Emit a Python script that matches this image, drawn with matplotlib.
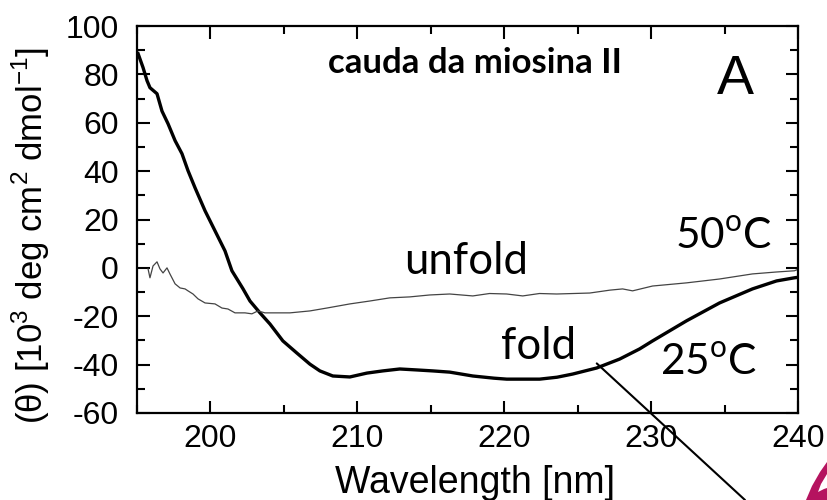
import numpy as np
import matplotlib
matplotlib.use('Agg')
import matplotlib.pyplot as plt
from matplotlib.ticker import MultipleLocator
from matplotlib.patches import Polygon

plt.rcParams['axes.unicode_minus'] = False

# CD spectra
# folded (25 C), thick trace
fold_wl = [195.07, 195.41, 195.68, 195.88, 196.36, 196.70, 197.11, 197.59, 198.06,
           198.47, 198.95, 199.63, 200.31, 200.99, 201.46, 202.20, 202.69, 203.37,
           204.05, 204.93, 205.88, 206.77, 207.45, 208.33, 209.49, 210.65, 211.73,
           212.89, 214.05, 215.14, 216.29, 217.86, 219.30, 220.17, 222.41, 223.60,
           224.66, 226.29, 227.86, 229.22, 230.10, 232.41, 234.66, 236.90, 238.54,
           239.76, 240.00]
fold_cd = [88.6, 82.8, 77.4, 74.5, 72.0, 64.8, 59.6, 52.6, 47.2,
           40.2, 33.1, 23.6, 15.3, 7.0, -1.2, -8.5, -13.7, -18.6,
           -23.2, -30.2, -35.2, -39.8, -42.6, -44.7, -45.1, -43.5, -42.6,
           -41.8, -42.2, -42.6, -43.1, -44.7, -45.6, -46.0, -46.0, -45.2,
           -43.9, -41.4, -37.7, -33.5, -30.2, -21.9, -14.5, -8.7, -5.4,
           -4.1, -3.9]

# unfolded (50 C), thin noisy trace
unfold_wl = [195.75, 195.88, 196.09, 196.36, 196.56, 196.77, 197.04, 197.24, 197.59,
             197.93, 198.27, 198.47, 198.81, 199.15, 199.63, 200.31, 200.78, 201.19,
             201.67, 202.35, 202.82, 203.23, 203.71, 204.39, 204.93, 205.41, 206.77,
             207.93, 209.49, 210.85, 212.21, 213.57, 214.93, 216.29, 217.86, 219.00,
             220.17, 221.26, 222.40, 223.57, 225.82, 227.20, 228.06, 228.74, 230.10,
             232.41, 234.66, 236.90, 238.54, 239.76, 240.00]
unfold_cd = [-0.4, -4.1, 0.8, 2.5, -0.4, -2.1, 0.0, -2.5, -6.6,
             -8.3, -8.7, -9.5, -10.8, -12.8, -14.5, -14.9, -16.6, -17.0,
             -18.6, -18.6, -19.0, -17.8, -18.6, -18.6, -18.6, -18.6, -17.8,
             -16.6, -14.9, -13.7, -12.4, -12.0, -11.2, -10.8, -11.6, -10.6,
             -10.8, -11.6, -10.6, -10.8, -10.4, -9.2, -8.7, -9.5, -7.5,
             -6.2, -4.6, -2.5, -1.7, -1.2, -0.6]

fig = plt.figure(figsize=(8.27, 5.0), dpi=100)
ax = fig.add_axes([0.1657, 0.174, 0.7992, 0.774])

ax.plot(fold_wl, fold_cd, color='black', lw=2.4)
ax.plot(unfold_wl, unfold_cd, color='#444444', lw=0.9)

ax.set_xlim(195, 240)
ax.set_ylim(-60, 100)
ax.xaxis.set_major_locator(MultipleLocator(10))
ax.xaxis.set_minor_locator(MultipleLocator(5))
ax.yaxis.set_major_locator(MultipleLocator(20))
ax.yaxis.set_minor_locator(MultipleLocator(10))
ax.tick_params(which='both', direction='in', top=True, right=True, width=1.5,
               labelsize=23)
ax.tick_params(which='major', length=9)
ax.tick_params(which='minor', length=6)
ax.tick_params(axis='x', pad=8)
ax.tick_params(axis='y', pad=13)
for s in ax.spines.values():
    s.set_linewidth(1.6)
for lab in ax.get_xticklabels() + ax.get_yticklabels():
    lab.set_family('Liberation Sans')

ax.set_xlabel('Wavelength [nm]', family='Liberation Sans', fontsize=27)
ax.xaxis.set_label_coords(0.511, -0.135)
ax.set_ylabel(r'(θ) [10$^{\mathregular{3}}$ deg cm$^{\mathregular{2}}$ dmol$^{\mathregular{-1}}$]',
              family='Liberation Sans', fontsize=25)
ax.yaxis.set_label_coords(-0.129, 0.458)

# annotations
ax.text(218.0, 84.5, 'cauda da miosina II', family='Lato', weight='bold',
        fontsize=25, ha='center', va='center')
ax.text(235.75, 77.5, 'A', family='Liberation Sans', fontsize=40,
        ha='center', va='center')
ax.text(234.9, 13.0, r'50$^{\mathregular{o}}$C', family='Lato', fontsize=30.5,
        ha='center', va='center')
ax.text(217.4, 2.5, 'unfold', family='Lato', fontsize=31.5, ha='center', va='center')
ax.text(222.35, -32.5, 'fold', family='Lato', fontsize=31.5, ha='center', va='center')
ax.text(233.9, -39.0, r'25$^{\mathregular{o}}$C', family='Lato', fontsize=30.5,
        ha='center', va='center')

# pointer line running off the figure
ax.annotate('', xy=(226.3, -39.5), xycoords='data',
            xytext=(745 / 827, 0.0), textcoords='figure fraction',
            arrowprops=dict(arrowstyle='-', color='black', lw=1.5,
                            shrinkA=0, shrinkB=0))

# bit of the neighbouring picture in the corner
W, H = 827, 500
pts = [(806, 500), (812, 486), (820, 472), (827, 462), (827, 474), (821, 484),
       (818, 492), (824, 489), (827, 488), (827, 500)]
fig.patches.append(Polygon([(x / W, 1 - y / H) for x, y in pts],
                           closed=True, transform=fig.transFigure,
                           facecolor='#b5135f', edgecolor='none'))

fig.savefig('out.png', dpi=100)
